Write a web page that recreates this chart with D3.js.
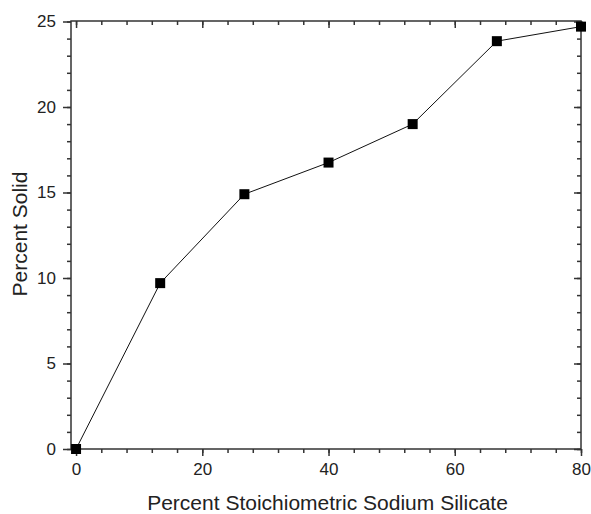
<!DOCTYPE html>
<html><head><meta charset="utf-8">
<script src="https://cdn.jsdelivr.net/npm/d3@7"></script>
<style>body{margin:0;background:#fff;} text{font-family:Arial,"Liberation Sans",sans-serif;}</style>
</head><body>
<svg id="c" width="591" height="514"></svg>
<script>
const xValues = [0, 13.33, 26.67, 40, 53.33, 66.67, 80];
const yValues = [0, 9.7, 14.9, 16.75, 19.0, 23.85, 24.7];
const xTicks = [0, 20, 40, 60, 80];
const yTicks = [0, 5, 10, 15, 20, 25];
const xTitle = "Percent Stoichiometric Sodium Silicate";
const yTitle = "Percent Solid";

const svg = d3.select("#c");
const L = 71, R = 581, T = 21, B = 449;
const x = d3.scaleLinear().domain([-0.8, 80]).range([L, R]);
const y = d3.scaleLinear().domain([0, 25]).range([B, T + 0.5]);
const axisColor = "#333";
const xMinor = d3.range(0, 80.1, 4);
const yMinor = d3.range(0, 25.1, 1);

function styleAxis(g){
  g.select(".domain").remove();
  g.selectAll("line").attr("stroke", axisColor).attr("stroke-width", 1.5);
  g.selectAll("text").attr("fill", "#222").style("font-size", "17px");
}
// bottom
svg.append("g").attr("transform", `translate(0,${B})`)
  .call(d3.axisBottom(x).tickValues(xMinor).tickSize(4).tickFormat("")).call(styleAxis);
svg.append("g").attr("transform", `translate(0,${B})`)
  .call(d3.axisBottom(x).tickValues(xTicks).tickSize(7).tickPadding(7).tickFormat(d3.format("d"))).call(styleAxis);
// top (inward)
svg.append("g").attr("transform", `translate(0,${T})`)
  .call(d3.axisBottom(x).tickValues(xMinor).tickSize(4).tickFormat("")).call(styleAxis);
svg.append("g").attr("transform", `translate(0,${T})`)
  .call(d3.axisBottom(x).tickValues(xTicks).tickSize(7).tickFormat("")).call(styleAxis);
// left
svg.append("g").attr("transform", `translate(${L},0)`)
  .call(d3.axisLeft(y).tickValues(yMinor).tickSize(4).tickFormat("")).call(styleAxis);
svg.append("g").attr("transform", `translate(${L},0)`)
  .call(d3.axisLeft(y).tickValues(yTicks).tickSize(8).tickPadding(7).tickFormat(d3.format("d"))).call(styleAxis);
// right (inward)
svg.append("g").attr("transform", `translate(${R},0)`)
  .call(d3.axisLeft(y).tickValues(yMinor).tickSize(4).tickFormat("")).call(styleAxis);
svg.append("g").attr("transform", `translate(${R},0)`)
  .call(d3.axisLeft(y).tickValues(yTicks).tickSize(7).tickFormat("")).call(styleAxis);

// frame
svg.append("rect").attr("x", L).attr("y", T).attr("width", R - L).attr("height", B - T)
  .attr("fill", "none").attr("stroke", axisColor).attr("stroke-width", 1.5);

const pts = xValues.map((v, i) => [v, yValues[i]]);
svg.append("path").datum(pts)
  .attr("d", d3.line().x(d => x(d[0])).y(d => y(d[1])))
  .attr("fill", "none").attr("stroke", "#111").attr("stroke-width", 1);
svg.selectAll("rect.m").data(pts).join("rect").attr("class", "m")
  .attr("x", d => x(d[0]) - 5).attr("y", d => y(d[1]) - 5)
  .attr("width", 10).attr("height", 10).attr("fill", "#000");

svg.append("text").attr("x", 327.5).attr("y", 510).attr("text-anchor", "middle")
  .style("font-size", "21px").attr("fill", "#222").text(xTitle);
svg.append("text").attr("transform", `translate(27,234) rotate(-90)`)
  .attr("text-anchor", "middle").style("font-size", "21px").attr("fill", "#222").text(yTitle);
</script>
</body></html>
